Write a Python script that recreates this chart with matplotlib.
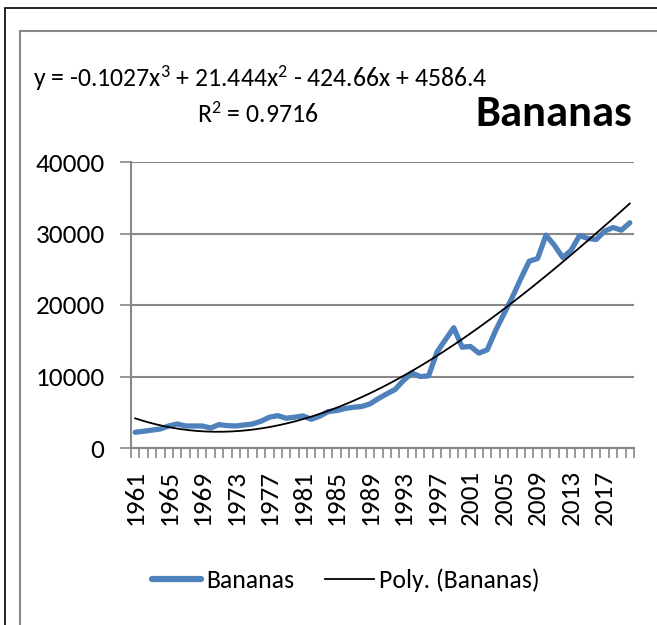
import numpy as np
import matplotlib
matplotlib.use("Agg")
import matplotlib.pyplot as plt
from matplotlib.patches import Rectangle
from matplotlib.lines import Line2D

years = list(range(1961, 2021))
bananas = [2200, 2340, 2500, 2660, 3080, 3360, 3080, 3080, 3080, 2800,
           3270, 3130, 3080, 3220, 3360, 3740, 4300, 4530, 4160, 4300,
           4490, 4020, 4440, 5090, 5230, 5510, 5700, 5800, 6170, 6900,
           7570, 8180, 9440, 10470, 10000, 10090, 13410, 15140, 16820, 14100,
           14200, 13270, 13740, 16450, 18790, 21120, 23690, 26120, 26500, 29770,
           28360, 26640, 27660, 29720, 29300, 29160, 30330, 30840, 30470, 31500]
yticks = [0, 10000, 20000, 30000, 40000]
equation = "y = -0.1027x$^3$ + 21.444x$^2$ - 424.66x + 4586.4"
r2_text = "R$^2$ = 0.9716"
title = "Bananas"

FONT = ["Carlito", "DejaVu Sans"]
plt.rcParams['font.family'] = FONT
plt.rcParams['mathtext.fontset'] = 'custom'
plt.rcParams['mathtext.rm'] = 'Carlito'
plt.rcParams['mathtext.it'] = 'Carlito'

W, H = 657, 625
fig = plt.figure(figsize=(W/100, H/100), dpi=100)

# frames
fig.add_artist(Rectangle((5/W, -0.1), 2, 1 - 8/H + 0.1, transform=fig.transFigure,
                         fill=False, edgecolor="black", linewidth=1.2))
fig.add_artist(Rectangle((20/W, -0.1), 2, 1 - 31/H + 0.1, transform=fig.transFigure,
                         fill=False, edgecolor="#888888", linewidth=1.5))

ax = fig.add_axes([131/W, 1 - 448/H, (634 - 131)/W, (448 - 162)/H])
x = np.arange(len(years))
ax.plot(x, bananas, color="#4F81BD", linewidth=3.8, solid_joinstyle="round",
        solid_capstyle="round", label="Bananas", zorder=3)
coef = np.polyfit(x + 1, bananas, 3)
xf = np.linspace(1, len(years), 300)
ax.plot(xf - 1, np.polyval(coef, xf), color="black", linewidth=1.3,
        label="Poly. (Bananas)", zorder=4)

ax.set_xlim(-0.5, len(years) - 0.5)
ax.set_ylim(0, 40000)
ax.set_yticks(yticks)
ax.set_yticklabels([str(v) for v in yticks], fontsize=19.5)
ax.set_xticks(x[::4])
ax.set_xticklabels([str(years[i]) for i in x[::4]], rotation=90, fontsize=19.5)
ax.set_xticks(np.arange(-0.5, len(years), 1), minor=True)
ax.tick_params(axis="x", which="major", length=0, pad=16)
ax.tick_params(axis="x", which="minor", length=7, color="#888888", width=1.2)
ax.tick_params(axis="y", length=8, color="#888888", width=1.2, pad=11)
ax.grid(axis="y", color="#888888", linewidth=1.5)
ax.set_axisbelow(True)
for s in ["top", "right"]:
    ax.spines[s].set_visible(False)
for s in ["left", "bottom"]:
    ax.spines[s].set_color("#888888")
    ax.spines[s].set_linewidth(1.5)

fig.text(33/W, 1 - 78/H, equation, fontsize=18.5, va="center", ha="left")
fig.text(258/W, 1 - 114/H, r2_text, fontsize=18.5, va="center", ha="center")
fig.text(554/W, 1 - 114/H, title, fontsize=32, fontweight="bold", va="center", ha="center")

handles = [Line2D([], [], color="#4F81BD", linewidth=4.5, solid_capstyle="round"),
           Line2D([], [], color="black", linewidth=1.3)]
fig.legend(handles, ["Bananas", "Poly. (Bananas)"], loc="center",
           bbox_to_anchor=(346/W, 1 - 580/H), ncol=2, frameon=False, fontsize=18.5,
           handlelength=1.9, handletextpad=0.2, columnspacing=1.2)

fig.savefig("out.png", dpi=100, facecolor="white")
